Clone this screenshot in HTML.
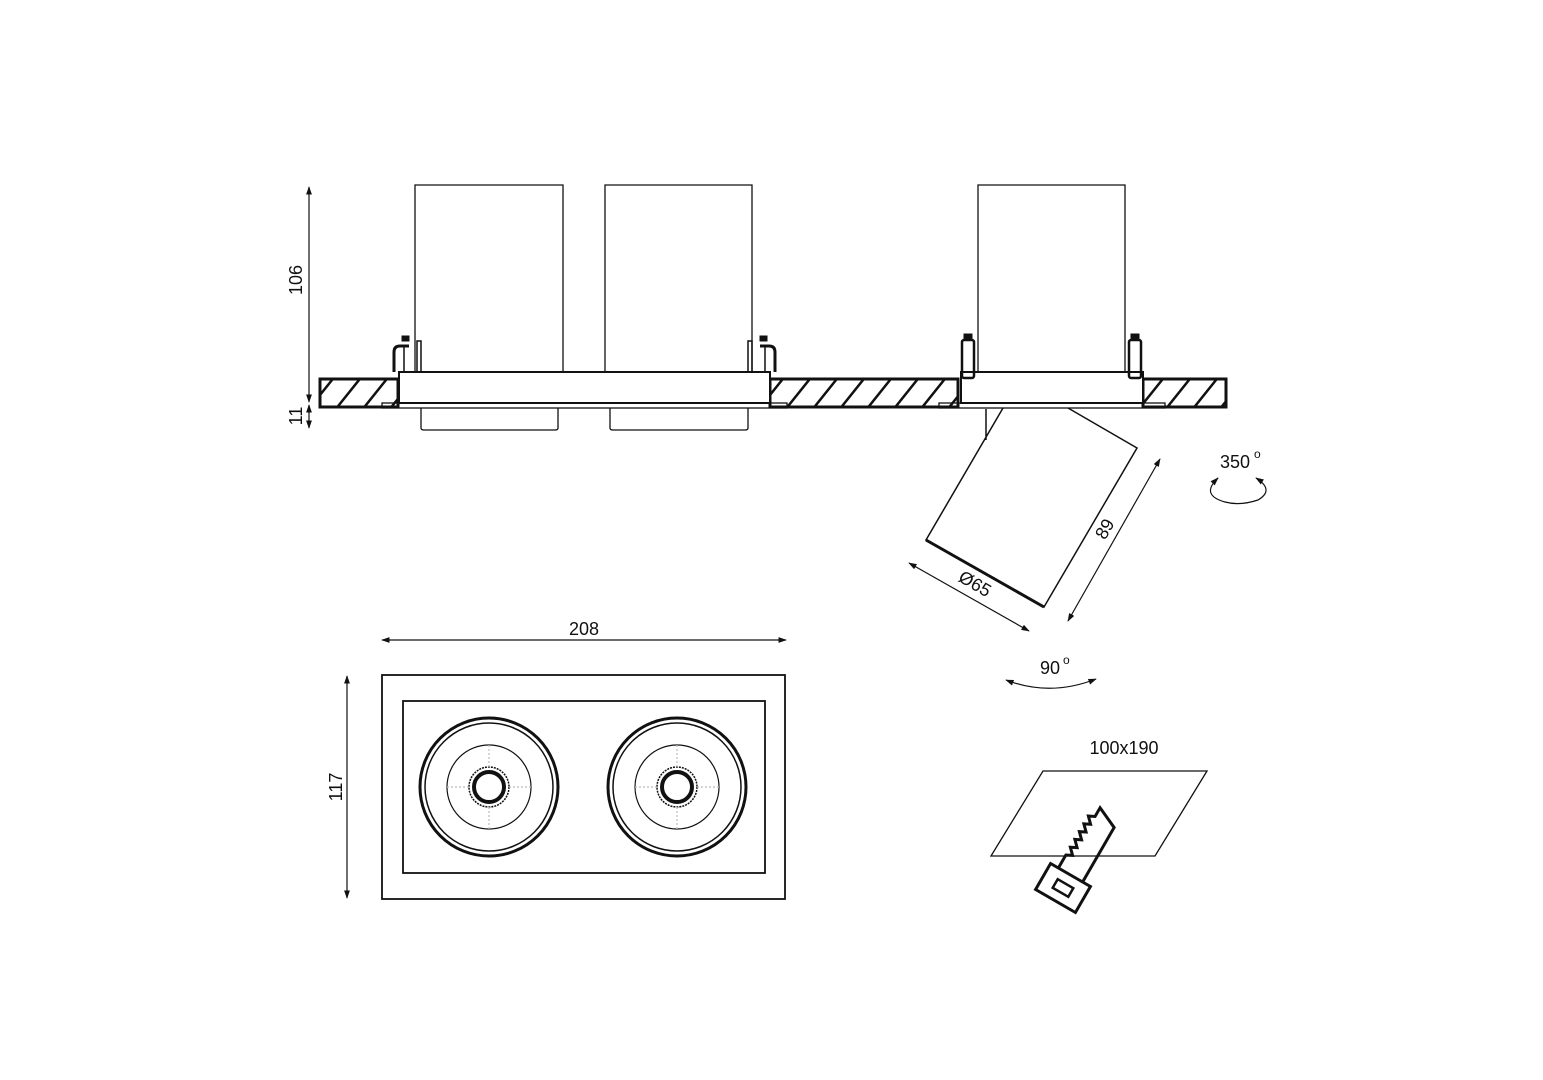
<!DOCTYPE html>
<html><head><meta charset="utf-8"><style>
html,body{margin:0;padding:0;background:#fff;}
svg{display:block;}
text{font-family:"Liberation Sans","DejaVu Sans",sans-serif;fill:#111;}
</style></head><body>
<svg width="1543" height="1080" viewBox="0 0 1543 1080" xmlns="http://www.w3.org/2000/svg">
<defs>
<marker id="a" viewBox="0 0 10 10" refX="9" refY="5" markerWidth="7" markerHeight="7" orient="auto-start-reverse"><path d="M0,1.5 L10,5 L0,8.5 z" fill="#111"/></marker>
<clipPath id="s1"><rect x="320" y="379" width="78" height="28"/></clipPath>
<clipPath id="s2"><rect x="770" y="379" width="188" height="28"/></clipPath>
<clipPath id="s3"><rect x="1143" y="379" width="83" height="28"/></clipPath>
<g id="hatch" stroke="#111" stroke-width="2.5"><path d="M300,420 L340,370 M327,420 L367,370 M354,420 L394,370 M381,420 L421,370 M750,420 L790,370 M777,420 L817,370 M804,420 L844,370 M831,420 L871,370 M858,420 L898,370 M885,420 L925,370 M912,420 L952,370 M939,420 L979,370 M1130,420 L1170,370 M1157,420 L1197,370 M1184,420 L1224,370 M1211,420 L1251,370"/></g>
</defs>
<g fill="none" stroke="#111">
<path d="M415,372 V185 H563 V372 M605,372 V185 H752 V372 M978,378 V185 H1125 V378" stroke-width="1.3"/>
<g stroke-width="3">
<rect x="320" y="379" width="78" height="28"/>
<rect x="770" y="379" width="188" height="28"/>
<rect x="1143" y="379" width="83" height="28"/>
</g>
<g clip-path="url(#s1)"><use href="#hatch"/></g>
<g clip-path="url(#s2)"><use href="#hatch"/></g>
<g clip-path="url(#s3)"><use href="#hatch"/></g>
<rect x="399" y="372" width="371" height="31" fill="#fff" stroke-width="2"/>
<rect x="382" y="403" width="405" height="5" stroke-width="1.3"/>
<path d="M421,408 V428 Q421,430 424,430 H555 Q558,430 558,428 V408 M610,408 V428 Q610,430 613,430 H745 Q748,430 748,428 V408" stroke-width="1.3"/>
<path d="M394,372 V352 Q394,346 400,346 H409" stroke-width="3"/>
<path d="M404,372 V346 M417,372 V341 H421 V372" stroke-width="1.5"/>
<rect x="402" y="336" width="7" height="5" fill="#111"/>
<path d="M775,372 V352 Q775,346 769,346 H760" stroke-width="3"/>
<path d="M765,372 V346 M752,372 V341 H748 V372" stroke-width="1.5"/>
<rect x="760" y="336" width="7" height="5" fill="#111"/>
<rect x="961" y="372" width="182" height="31" fill="#fff" stroke-width="2"/>
<rect x="939" y="403" width="226" height="5" stroke-width="1.3"/>
<rect x="962" y="340" width="12" height="38" rx="2" stroke-width="2.5"/>
<rect x="1129" y="340" width="12" height="38" rx="2" stroke-width="2.5"/>
<rect x="964" y="334" width="8" height="6" fill="#111"/>
<rect x="1131" y="334" width="8" height="6" fill="#111"/>
<path d="M986,409 V440 M1003,408 L926,540 L1044,607 L1137,448 L1068,408" stroke-width="1.5"/>
<path d="M926,540 L1044,607" stroke-width="3"/>
<g stroke-width="1.2">
<path d="M309,187 V402" marker-start="url(#a)" marker-end="url(#a)"/>
<path d="M309,405 V428" marker-start="url(#a)" marker-end="url(#a)"/>
<path d="M382,640 H786" marker-start="url(#a)" marker-end="url(#a)"/>
<path d="M347,676 V898" marker-start="url(#a)" marker-end="url(#a)"/>
<path d="M1160,459 L1068,621" marker-start="url(#a)" marker-end="url(#a)"/>
<path d="M909,563 L1029,631" marker-start="url(#a)" marker-end="url(#a)"/>
<path d="M1218,478 Q1200,495 1225,502 Q1240,506 1258,500 Q1275,490 1256,478" marker-end="url(#a)"/>
<path d="M1218,478 L1216,480" marker-start="url(#a)"/>
<path d="M1006,680 Q1050,697 1096,679" marker-start="url(#a)" marker-end="url(#a)"/>
</g>
<rect x="382" y="675" width="403" height="224" stroke-width="1.8"/>
<rect x="403" y="701" width="362" height="172" stroke-width="1.8"/>
<g stroke-width="1.2">
<g>
<circle cx="489" cy="787" r="69" stroke-width="3"/>
<circle cx="489" cy="787" r="64" stroke-width="1.5"/>
<circle cx="489" cy="787" r="42"/>
<circle cx="489" cy="787" r="20" stroke-width="1.5" stroke-dasharray="2 1"/>
<circle cx="489" cy="787" r="15" stroke-width="4"/>
<path d="M489,745 V767 M489,807 V829 M447,787 H469 M509,787 H531" stroke="#bbb" stroke-dasharray="2 2"/>
</g>
<g>
<circle cx="677" cy="787" r="69" stroke-width="3"/>
<circle cx="677" cy="787" r="64" stroke-width="1.5"/>
<circle cx="677" cy="787" r="42"/>
<circle cx="677" cy="787" r="20" stroke-width="1.5" stroke-dasharray="2 1"/>
<circle cx="677" cy="787" r="15" stroke-width="4"/>
<path d="M677,745 V767 M677,807 V829 M635,787 H657 M697,787 H719" stroke="#bbb" stroke-dasharray="2 2"/>
</g>
</g>
<path d="M1043,771 H1207 L1155,856 H991 Z" stroke-width="1.3"/>
<g transform="translate(1063,888) rotate(30)" stroke-width="3">
<rect x="-23" y="-15" width="46" height="30"/>
<rect x="-9" y="-5" width="18" height="10" stroke-width="2.5"/>
<path d="M-14,-15 V-30 L-8,-33 L-14,-39 L-8,-42 L-14,-48 L-8,-51 L-14,-57 L-8,-60 L-14,-66 L-8,-69 L-14,-75 L-8,-78 V-88 L14,-78 V-15"/>
</g>
</g>
<text x="0" y="0" font-size="18" text-anchor="middle" transform="translate(302,280) rotate(-90)">106</text>
<text x="0" y="0" font-size="18" text-anchor="middle" transform="translate(302,416) rotate(-90)">11</text>
<text x="584" y="635" font-size="18" text-anchor="middle">208</text>
<text x="0" y="0" font-size="18" text-anchor="middle" transform="translate(342,787) rotate(-90)">117</text>
<text x="0" y="0" font-size="18" text-anchor="middle" transform="translate(1110,532) rotate(-60)">89</text>
<text x="0" y="0" font-size="18" text-anchor="middle" transform="translate(972,589) rotate(30)">Ø65</text>
<text x="1220" y="468" font-size="18">350</text>
<text x="1254" y="458" font-size="12">o</text>
<text x="1040" y="674" font-size="18">90</text>
<text x="1063" y="664" font-size="12">o</text>
<text x="1124" y="754" font-size="18" text-anchor="middle">100x190</text>
</svg>
</body></html>
